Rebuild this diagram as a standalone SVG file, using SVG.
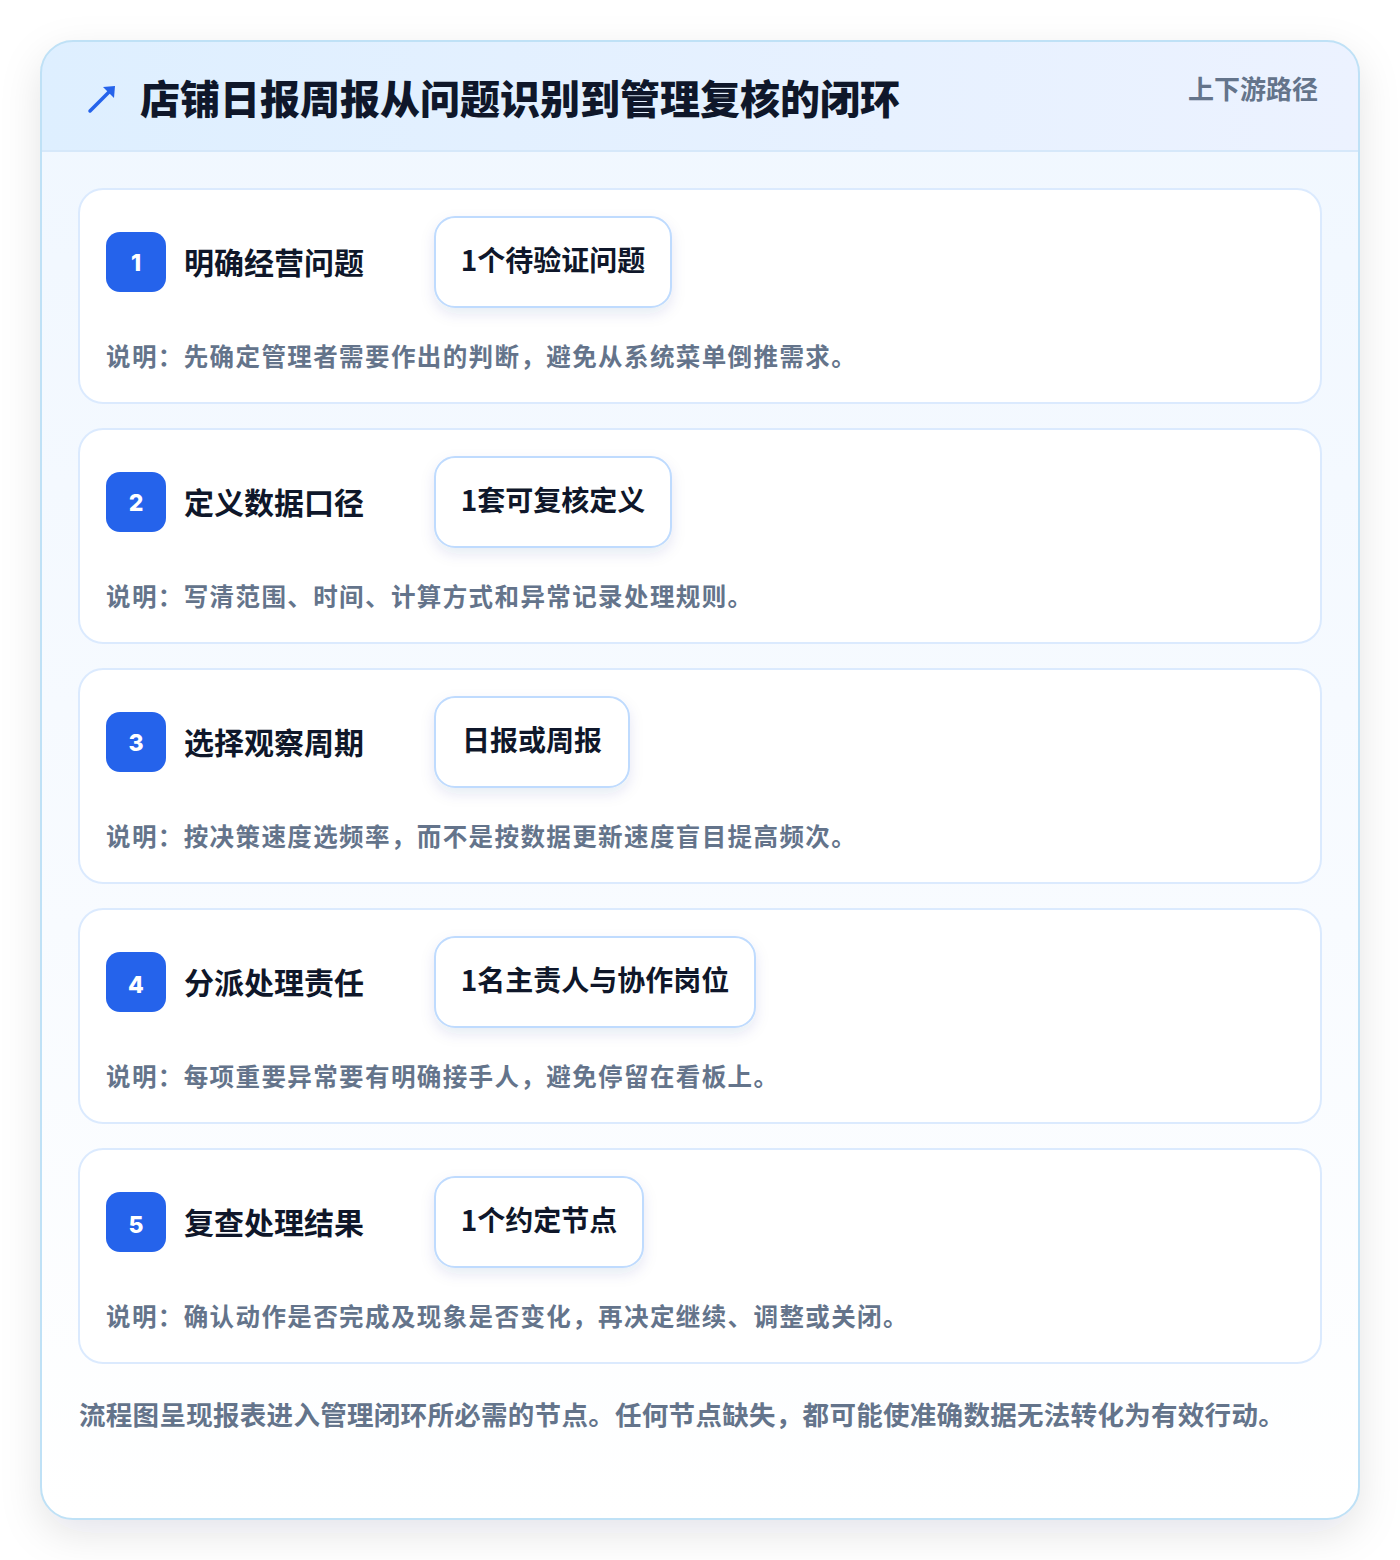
<svg xmlns="http://www.w3.org/2000/svg" width="1400" height="1560" viewBox="0 0 1400 1560">
<defs>
<linearGradient id="hdr" x1="0" y1="0" x2="1" y2="0">
<stop offset="0" stop-color="#deefff"/>
<stop offset="1" stop-color="#ecf2ff"/>
</linearGradient>
<linearGradient id="body" x1="0" y1="0" x2="0" y2="1">
<stop offset="0" stop-color="#f0f7ff"/>
<stop offset="0.6" stop-color="#f8fbff"/>
<stop offset="1" stop-color="#ffffff"/>
</linearGradient>
<filter id="outerShadow" x="-10%" y="-10%" width="120%" height="120%">
<feDropShadow dx="0" dy="14" stdDeviation="20" flood-color="#0f172a" flood-opacity="0.11"/>
</filter>
<filter id="pillShadow" x="-20%" y="-30%" width="140%" height="170%">
<feDropShadow dx="0" dy="6" stdDeviation="7" flood-color="#1e3a8a" flood-opacity="0.10"/>
</filter>
<clipPath id="outerClip"><rect x="41" y="41" width="1318" height="1478" rx="32"/></clipPath>
</defs>
<style>
.card{fill:#ffffff;stroke:#dbeafe;stroke-width:2}
.badge{fill:#2563eb}
.num{font-family:"Inter","Liberation Sans",sans-serif;font-weight:800;font-size:23px;fill:#ffffff;text-anchor:middle}
.ttl{font-family:"Noto Sans CJK SC","Noto Sans",sans-serif;font-weight:700;font-size:30px;fill:#0f172a}
.pill{fill:#ffffff;stroke:#bfdbfe;stroke-width:2}
.ptxt{font-family:"Noto Sans CJK SC","Noto Sans",sans-serif;font-weight:700;font-size:28px;fill:#0f172a;text-anchor:middle}
.desc{font-family:"Noto Sans CJK SC","Noto Sans",sans-serif;font-weight:700;font-size:24.5px;letter-spacing:1.4px;fill:#64748b}
</style>
<rect width="1400" height="1560" fill="#ffffff"/>
<g id="frame">
<rect x="41" y="41" width="1318" height="1478" rx="32" fill="#ffffff" filter="url(#outerShadow)"/>
<g clip-path="url(#outerClip)">
<rect x="41" y="41" width="1318" height="1478" fill="url(#body)"/>
<rect x="41" y="41" width="1318" height="110" fill="url(#hdr)"/>
<line x1="41" y1="151" x2="1359" y2="151" stroke="#d6e8fa" stroke-width="2"/>
</g>
<rect x="41" y="41" width="1318" height="1478" rx="32" fill="none" stroke="#bfe1f6" stroke-width="2"/>
</g>
<g id="header">
<path d="M90 111 L112 89" stroke="#2563eb" stroke-width="3.5" stroke-linecap="round" fill="none"/>
<path d="M103 87 L115 86 L114 98 Z" fill="#2563eb"/>
<text x="140" y="114" font-family="Noto Sans CJK SC, Noto Sans, sans-serif" font-weight="900" font-size="40" fill="#0f172a">店铺日报周报从问题识别到管理复核的闭环</text>
<text x="1318" y="99" font-family="Noto Sans CJK SC, Noto Sans, sans-serif" font-weight="700" font-size="26" fill="#64748b" text-anchor="end">上下游路径</text>
</g>
<g id="connectors"></g>
<g id="step1">
<rect class="card" x="79" y="189" width="1242" height="214" rx="24"/>
<rect class="badge" x="106" y="232" width="60" height="60" rx="14"/>
<text class="num" x="136" y="271">1</text>
<text class="ttl" x="184" y="274">明确经营问题</text>
<rect class="pill" x="435" y="217" width="236" height="90" rx="20" filter="url(#pillShadow)"/>
<text class="ptxt" x="553" y="271">1个待验证问题</text>
<text class="desc" x="106" y="366">说明：先确定管理者需要作出的判断，避免从系统菜单倒推需求。</text>
</g>
<g id="step2">
<rect class="card" x="79" y="429" width="1242" height="214" rx="24"/>
<rect class="badge" x="106" y="472" width="60" height="60" rx="14"/>
<text class="num" x="136" y="511">2</text>
<text class="ttl" x="184" y="514">定义数据口径</text>
<rect class="pill" x="435" y="457" width="236" height="90" rx="20" filter="url(#pillShadow)"/>
<text class="ptxt" x="553" y="511">1套可复核定义</text>
<text class="desc" x="106" y="606">说明：写清范围、时间、计算方式和异常记录处理规则。</text>
</g>
<g id="step3">
<rect class="card" x="79" y="669" width="1242" height="214" rx="24"/>
<rect class="badge" x="106" y="712" width="60" height="60" rx="14"/>
<text class="num" x="136" y="751">3</text>
<text class="ttl" x="184" y="754">选择观察周期</text>
<rect class="pill" x="435" y="697" width="194" height="90" rx="20" filter="url(#pillShadow)"/>
<text class="ptxt" x="532" y="751">日报或周报</text>
<text class="desc" x="106" y="846">说明：按决策速度选频率，而不是按数据更新速度盲目提高频次。</text>
</g>
<g id="step4">
<rect class="card" x="79" y="909" width="1242" height="214" rx="24"/>
<rect class="badge" x="106" y="952" width="60" height="60" rx="14"/>
<text class="num" x="136" y="993">4</text>
<text class="ttl" x="184" y="994">分派处理责任</text>
<rect class="pill" x="435" y="937" width="320" height="90" rx="20" filter="url(#pillShadow)"/>
<text class="ptxt" x="595" y="991">1名主责人与协作岗位</text>
<text class="desc" x="106" y="1086">说明：每项重要异常要有明确接手人，避免停留在看板上。</text>
</g>
<g id="step5">
<rect class="card" x="79" y="1149" width="1242" height="214" rx="24"/>
<rect class="badge" x="106" y="1192" width="60" height="60" rx="14"/>
<text class="num" x="136" y="1233">5</text>
<text class="ttl" x="184" y="1234">复查处理结果</text>
<rect class="pill" x="435" y="1177" width="208" height="90" rx="20" filter="url(#pillShadow)"/>
<text class="ptxt" x="539" y="1231">1个约定节点</text>
<text class="desc" x="106" y="1326">说明：确认动作是否完成及现象是否变化，再决定继续、调整或关闭。</text>
</g>
<g id="footer">
<text x="79" y="1425" font-family="Noto Sans CJK SC, Noto Sans, sans-serif" font-weight="700" font-size="26.5" letter-spacing="0.3" fill="#64748b">流程图呈现报表进入管理闭环所必需的节点。任何节点缺失，都可能使准确数据无法转化为有效行动。</text>
</g>
</svg>
